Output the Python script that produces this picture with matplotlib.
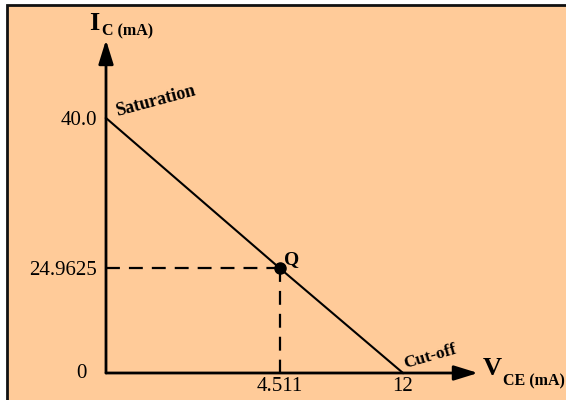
import numpy as np
import matplotlib
matplotlib.use("Agg")
import matplotlib.pyplot as plt
from matplotlib.patches import Rectangle

# load line: saturation, Q point, cut-off
vce_points = [0.0, 4.511, 12.0]
ic_points = [40.0, 24.9625, 0.0]
q_vce = 4.511
q_ic = 24.9625

x_ticks = [4.511, 12.0]
x_tick_labels = ["4.511", "12"]
y_ticks = [24.9625, 40.0]
y_tick_labels = ["24.9625", "40.0"]

plt.rcParams['font.family'] = ['Liberation Serif', 'DejaVu Serif']
plt.rcParams['lines.scale_dashes'] = False

W, H = 566, 400
fig = plt.figure(figsize=(W / 100, H / 100), dpi=100, facecolor="white")

# peach panel with dark frame
fig.patches.append(Rectangle((7 / W, -0.05), 1.0, 1.05 - 5 / H, transform=fig.transFigure,
                             facecolor="#FFCB99", edgecolor="#111111", linewidth=2, zorder=-5))

# origin at (106, 373) px, x=12 at 403 px, y=40 at 118 px
ax = fig.add_axes([106 / W, (H - 373) / H, 297 / W, 255 / H])
ax.patch.set_alpha(0)
ax.set_zorder(2)

# the sketch is not to scale: Q sits further along the line than its values say
xfrac = [0.0, 0.586, 1.0]
yfrac = [0.0, 0.41, 1.0]
xb = [0.0, q_vce, 12.0]
yb = [0.0, q_ic, 40.0]
ax.set_xscale("function", functions=(lambda v: np.interp(v, xb, xfrac), lambda v: np.interp(v, xfrac, xb)))
ax.set_yscale("function", functions=(lambda v: np.interp(v, yb, yfrac), lambda v: np.interp(v, yfrac, yb)))
ax.set_xlim(0, 12)
ax.set_ylim(0, 40)

for s in ax.spines.values():
    s.set_visible(False)

# axes with arrows
arrow = dict(arrowstyle="-|>,head_length=1.45,head_width=0.45", mutation_scale=10,
             color="black", lw=2, shrinkA=0, shrinkB=0)
ax.annotate("", xy=(1.2525, 0), xytext=(0, 0), xycoords="axes fraction", arrowprops=arrow)
ax.annotate("", xy=(0, 1.306), xytext=(0, 0), xycoords="axes fraction", arrowprops=arrow)

# load line and Q point
ax.plot(vce_points, ic_points, color="black", lw=1.5, clip_on=False, zorder=3)
ax.plot([0, q_vce], [q_ic, q_ic], color="black", lw=1.6, dashes=(10, 6.5), zorder=2)
ax.plot([q_vce, q_vce], [q_ic, 0], color="black", lw=1.6, dashes=(10, 6.5), zorder=2)
ax.plot([q_vce], [q_ic], "o", color="black", ms=8, zorder=4)

ax.set_xticks(x_ticks)
ax.set_xticklabels(x_tick_labels)
ax.set_yticks(y_ticks)
ax.set_yticklabels(y_tick_labels)
ax.tick_params(axis="both", length=0, labelsize=15)
ax.tick_params(axis="x", pad=3)
ax.tick_params(axis="y", pad=6.5)
ax.annotate("0", xy=(0, 0), xytext=(-14, 0), textcoords="offset points",
            ha="right", va="center", fontsize=15)

# point labels
ax.annotate("Saturation", xy=(vce_points[0], ic_points[0]), xytext=(36, 12), textcoords="offset points",
            ha="center", va="center", rotation=15, fontsize=13, fontweight="bold")
ax.annotate("Q", xy=(q_vce, q_ic), xytext=(8, 6.5), textcoords="offset points",
            ha="center", va="center", fontsize=14, fontweight="bold")
ax.annotate("Cut-off", xy=(vce_points[2], ic_points[2]), xytext=(19.5, 12), textcoords="offset points",
            ha="center", va="center", rotation=16, fontsize=12.5, fontweight="bold")

# axis titles
fig.text(89 / W, 1 - 30 / H, "I", fontsize=19, fontweight="bold", va="baseline", ha="left")
fig.text(102 / W, 1 - 35 / H, "C (mA)", fontsize=11.5, fontweight="bold", va="baseline", ha="left")
fig.text(483 / W, 1 - 375 / H, "V", fontsize=19, fontweight="bold", va="baseline", ha="left")
fig.text(503 / W, 1 - 385 / H, "CE (mA)", fontsize=11.5, fontweight="bold", va="baseline", ha="left")

fig.savefig("out.png", dpi=100)
